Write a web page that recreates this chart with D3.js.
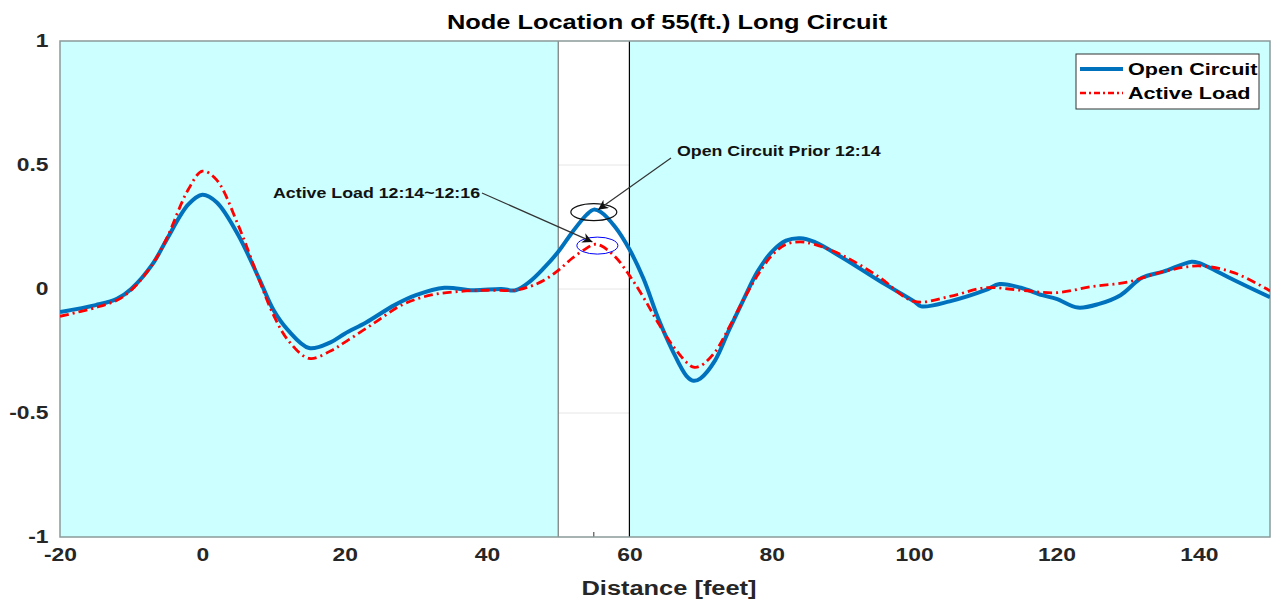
<!DOCTYPE html>
<html>
<head>
<meta charset="utf-8">
<script src="https://cdn.jsdelivr.net/npm/d3@7"></script>
<style>
  body { margin: 0; background: #fff; }
  text { font-family: "Liberation Sans", Arial, sans-serif; font-weight: bold; }
</style>
</head>
<body>
<svg width="1271" height="601"></svg>
<script>
// data
const openX = [-20, -15, -12, -10, -7, -5, -2, 0, 2, 5, 8, 10, 12, 15, 18, 20, 23, 27, 30, 34, 38, 42, 44, 46, 48, 50, 52, 54, 55, 56, 58, 60, 62, 64, 66, 68, 69, 70, 72, 74, 76, 78, 80, 82, 84, 86, 90, 95, 100, 101, 105, 110, 112, 115, 118, 120, 123, 126, 129, 132, 135, 139, 140, 145, 150];
const openY = [-0.093, -0.065, -0.04, 0.0, 0.1, 0.2, 0.34, 0.38, 0.35, 0.22, 0.04, -0.085, -0.165, -0.238, -0.215, -0.18, -0.135, -0.065, -0.025, 0.005, -0.005, 0.0, -0.005, 0.03, 0.085, 0.15, 0.23, 0.30, 0.32, 0.31, 0.25, 0.16, 0.04, -0.115, -0.245, -0.35, -0.37, -0.36, -0.29, -0.165, -0.045, 0.07, 0.15, 0.195, 0.205, 0.19, 0.125, 0.035, -0.05, -0.07, -0.05, -0.005, 0.02, 0.005, -0.025, -0.04, -0.075, -0.06, -0.025, 0.045, 0.07, 0.11, 0.105, 0.035, -0.033];

const loadX = [-20, -15, -12, -10, -7, -5, -2, 0, 2, 5, 8, 10, 12, 15, 18, 20, 24, 28, 32, 36, 40, 44, 46, 48, 50, 52, 54, 55, 56, 58, 60, 62, 64, 66, 68, 69, 70, 72, 74, 76, 78, 80, 82, 84, 86, 90, 95, 100, 105, 110, 115, 120, 125, 130, 135, 140, 145, 150];
const loadY = [-0.11, -0.075, -0.045, -0.005, 0.1, 0.205, 0.4, 0.475, 0.44, 0.26, 0.035, -0.105, -0.205, -0.28, -0.25, -0.215, -0.14, -0.065, -0.025, -0.01, -0.005, -0.005, 0.01, 0.035, 0.075, 0.125, 0.165, 0.18, 0.175, 0.13, 0.055, -0.035, -0.135, -0.225, -0.295, -0.315, -0.31, -0.255, -0.155, -0.045, 0.055, 0.135, 0.18, 0.19, 0.18, 0.135, 0.05, -0.05, -0.03, 0.005, -0.005, -0.015, 0.01, 0.028, 0.07, 0.093, 0.065, -0.008];

const xTicks = [-20, 0, 20, 40, 60, 80, 100, 120, 140];
const yTicks = [-1, -0.5, 0, 0.5, 1];
const bandRange = [50, 60];
const bandGrid = [-0.5, 0, 0.5];

const svg = d3.select('svg');
const margin = { left: 60, right: 1, top: 41, bottom: 64 };
const width = 1271, height = 601;
const stretch = 1.27; // reference text is horizontally wide

const x = d3.scaleLinear().domain([-20, 150]).range([margin.left, width - margin.right]);
const y = d3.scaleLinear().domain([-1, 1]).range([height - margin.bottom, margin.top]);

const label = (parent, px, py, str, size, anchor) => {
  parent.append('g')
    .attr('transform', `translate(${px},${py}) scale(${stretch},1)`)
    .append('text')
    .attr('text-anchor', anchor || 'start')
    .attr('font-size', size)
    .text(str);
};

// background
svg.append('rect')
  .attr('x', x(-20)).attr('y', y(1))
  .attr('width', x(150) - x(-20)).attr('height', y(-1) - y(1))
  .attr('fill', '#ccffff');

// white band between 50 and 60 ft
svg.append('rect')
  .attr('x', x(bandRange[0])).attr('y', y(1))
  .attr('width', x(bandRange[1]) - x(bandRange[0])).attr('height', y(-1) - y(1))
  .attr('fill', '#fff');

svg.selectAll('.bandgrid')
  .data(bandGrid)
  .enter().append('line')
  .attr('x1', x(bandRange[0])).attr('x2', x(bandRange[1]))
  .attr('y1', (d) => y(d)).attr('y2', (d) => y(d))
  .attr('stroke', '#e6e6e6').attr('stroke-width', 1);

svg.append('line')
  .attr('x1', x(55)).attr('x2', x(55))
  .attr('y1', y(-1)).attr('y2', y(-1) - 5)
  .attr('stroke', '#333');

svg.append('line')
  .attr('x1', x(bandRange[0])).attr('x2', x(bandRange[0]))
  .attr('y1', y(1)).attr('y2', y(-1))
  .attr('stroke', '#777').attr('stroke-width', 1.2);
svg.append('line')
  .attr('x1', x(bandRange[1])).attr('x2', x(bandRange[1]))
  .attr('y1', y(1)).attr('y2', y(-1))
  .attr('stroke', '#000').attr('stroke-width', 1.2);

// frame
svg.append('rect')
  .attr('x', x(-20)).attr('y', y(1))
  .attr('width', x(150) - x(-20)).attr('height', y(-1) - y(1))
  .attr('fill', 'none').attr('stroke', '#8a9a9a').attr('stroke-width', 1.5);

// axes labels
const fmt = (d) => String(d);

svg.append('g')
  .attr('transform', `translate(0,${y(-1)})`)
  .call(d3.axisBottom(x).tickValues(xTicks).tickFormat(fmt).tickSize(0).tickPadding(11))
  .call((g) => g.select('.domain').remove())
  .selectAll('text')
  .attr('transform', `scale(${stretch},1)`)
  .attr('font-size', 18).attr('fill', '#262626')
  .style('font-family', '"Liberation Sans", Arial, sans-serif').style('font-weight', 'bold');

svg.append('g')
  .attr('transform', `translate(${x(-20)},0)`)
  .call(d3.axisLeft(y).tickValues(yTicks).tickFormat(fmt).tickSize(0).tickPadding(9))
  .call((g) => g.select('.domain').remove())
  .selectAll('text')
  .attr('transform', `scale(${stretch},1)`)
  .attr('font-size', 18).attr('fill', '#262626')
  .style('font-family', '"Liberation Sans", Arial, sans-serif').style('font-weight', 'bold');

const xLab = svg.append('g').attr('fill', '#262626');
label(xLab, (x(-20) + x(150)) / 2 + 4, 595, 'Distance [feet]', 20, 'middle');

const title = svg.append('g').attr('fill', '#000');
label(title, 667, 29, 'Node Location of 55(ft.) Long Circuit', 20, 'middle');

// curves
const line = d3.line()
  .x((d) => x(d[0]))
  .y((d) => y(d[1]))
  .curve(d3.curveCatmullRom.alpha(0.5));

svg.append('clipPath').attr('id', 'clip')
  .append('rect')
  .attr('x', x(-20)).attr('y', y(1))
  .attr('width', x(150) - x(-20)).attr('height', y(-1) - y(1));

svg.append('path')
  .datum(openX.map((v, i) => [v, openY[i]]))
  .attr('d', line)
  .attr('clip-path', 'url(#clip)')
  .attr('fill', 'none').attr('stroke', '#0072bd').attr('stroke-width', 4)
  .attr('stroke-linejoin', 'round');

svg.append('path')
  .datum(loadX.map((v, i) => [v, loadY[i]]))
  .attr('d', line)
  .attr('clip-path', 'url(#clip)')
  .attr('fill', 'none').attr('stroke', '#ff0000').attr('stroke-width', 2.8)
  .attr('stroke-dasharray', '9,4,2,4');

// annotations
const defs = svg.append('defs');
defs.append('marker')
  .attr('id', 'arrow').attr('viewBox', '0 0 10 10')
  .attr('refX', 10).attr('refY', 5)
  .attr('markerWidth', 14).attr('markerHeight', 10)
  .attr('markerUnits', 'userSpaceOnUse')
  .attr('orient', 'auto')
  .append('path').attr('d', 'M0,0 L10,5 L0,10 L3,5 Z').attr('fill', '#111');

svg.append('ellipse')
  .attr('cx', x(55)).attr('cy', y(0.31))
  .attr('rx', 23).attr('ry', 8.5)
  .attr('fill', 'none').attr('stroke', '#111').attr('stroke-width', 1.2);

svg.append('ellipse')
  .attr('cx', x(55.5)).attr('cy', y(0.175))
  .attr('rx', 20.5).attr('ry', 8.5)
  .attr('fill', 'none').attr('stroke', '#0000ff').attr('stroke-width', 1);

svg.append('line')
  .attr('x1', 671).attr('y1', 158).attr('x2', x(55.6)).attr('y2', y(0.32))
  .attr('stroke', '#333').attr('stroke-width', 1.2)
  .attr('marker-end', 'url(#arrow)');

svg.append('line')
  .attr('x1', 482).attr('y1', 193).attr('x2', x(54.8)).attr('y2', y(0.19))
  .attr('stroke', '#333').attr('stroke-width', 1.2)
  .attr('marker-end', 'url(#arrow)');

const notes = svg.append('g').attr('fill', '#111');
label(notes, 677, 156, 'Open Circuit Prior 12:14', 14);
label(notes, 273, 198, 'Active Load 12:14~12:16', 14);

// legend
const legend = svg.append('g');
legend.append('rect')
  .attr('x', 1076).attr('y', 54).attr('width', 183).attr('height', 55)
  .attr('fill', '#fff').attr('stroke', '#333').attr('stroke-width', 1);

const legendItems = [
  { name: 'Open Circuit', color: '#0072bd', w: 4, dash: null },
  { name: 'Active Load', color: '#ff0000', w: 2.5, dash: '6,3,2,3' },
];
legendItems.forEach((it, i) => {
  const yy = 69 + i * 24;
  legend.append('line')
    .attr('x1', 1080).attr('x2', 1123).attr('y1', yy).attr('y2', yy)
    .attr('stroke', it.color).attr('stroke-width', it.w)
    .attr('stroke-dasharray', it.dash);
  label(legend, 1128, yy + 6, it.name, 17);
});
</script>
</body>
</html>
